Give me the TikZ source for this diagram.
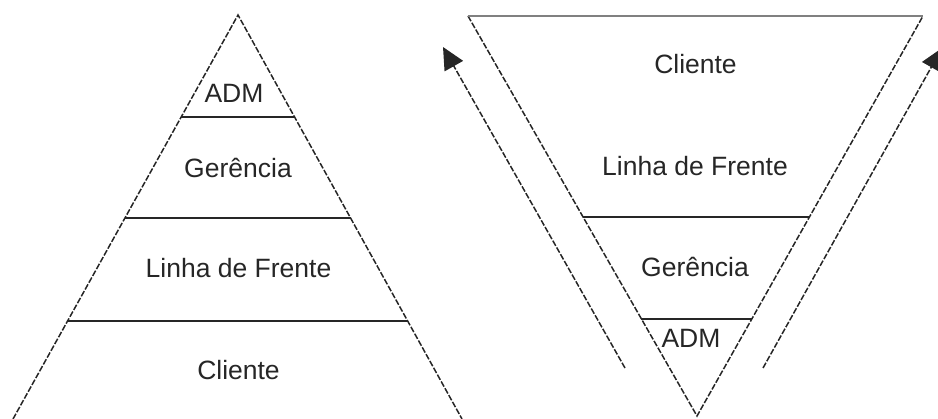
\documentclass[tikz,border=0pt]{standalone}
\usepackage{fontspec}
\setmainfont{Liberation Sans}
\usetikzlibrary{arrows.meta,calc}

\begin{document}
\begin{tikzpicture}[x=1pt,y=-1pt,>=Stealth,
  side/.style={draw=black!85,line width=1.5pt,dash pattern=on 6pt off 1.8pt},
  tier/.style={draw=black!85,line width=1.8pt},
  topline/.style={draw=black!50,line width=2.8pt},
  lbl/.style={anchor=base,inner sep=0pt,text=black!85,font=\fontsize{26.5}{30}\selectfont},
  flow/.style={side,-{Triangle[length=22pt,width=21pt]}}]
 \useasboundingbox (0,0) rectangle (938,419);
 % traditional pyramid
 \coordinate (la) at (238,15);
 \coordinate (lbl) at (13,419);
 \coordinate (lbr) at (462,419);
 \draw[side] (lbl) -- (la) -- (lbr);
 \draw[tier] ($(la)!.2525!(lbl)$) -- ($(la)!.2525!(lbr)$);
 \draw[tier] ($(la)!.5025!(lbl)$) -- ($(la)!.5025!(lbr)$);
 \draw[tier] ($(la)!.757!(lbl)$) -- ($(la)!.757!(lbr)$);
 \node[lbl] (ladm) at (234,103) {ADM};
 \node[lbl] (lger) at (238,178) {Gerência};
 \node[lbl] (llin) at (238.5,278) {Linha de Frente};
 \node[lbl] (lcli) at (238.5,380) {Cliente};
 % inverted pyramid
 \coordinate (ra) at (697,416);
 \coordinate (rtl) at (468,16);
 \coordinate (rtr) at (923,16);
 \draw[side] (rtl) -- (ra) -- (rtr);
 \draw[topline] (rtl) -- (rtr);
 \draw[tier] ($(ra)!.4975!(rtl)$) -- ($(ra)!.4975!(rtr)$);
 \draw[tier] ($(ra)!.2425!(rtl)$) -- ($(ra)!.2425!(rtr)$);
 \node[lbl] (rcli) at (695.5,74) {Cliente};
 \node[lbl] (rlin) at (695,176) {Linha de Frente};
 \node[lbl] (rger) at (695,277) {Gerência};
 \node[lbl] (radm) at (691,348) {ADM};
 % arrows
 \coordinate (f1s) at (625,368);
 \coordinate (f1e) at (443,47);
 \coordinate (f2s) at (763,368);
 \coordinate (f2e) at (942,48);
 \draw[flow] (f1s) -- (f1e);
 \draw[flow] (f2s) -- (f2e);
\end{tikzpicture}
\end{document}
